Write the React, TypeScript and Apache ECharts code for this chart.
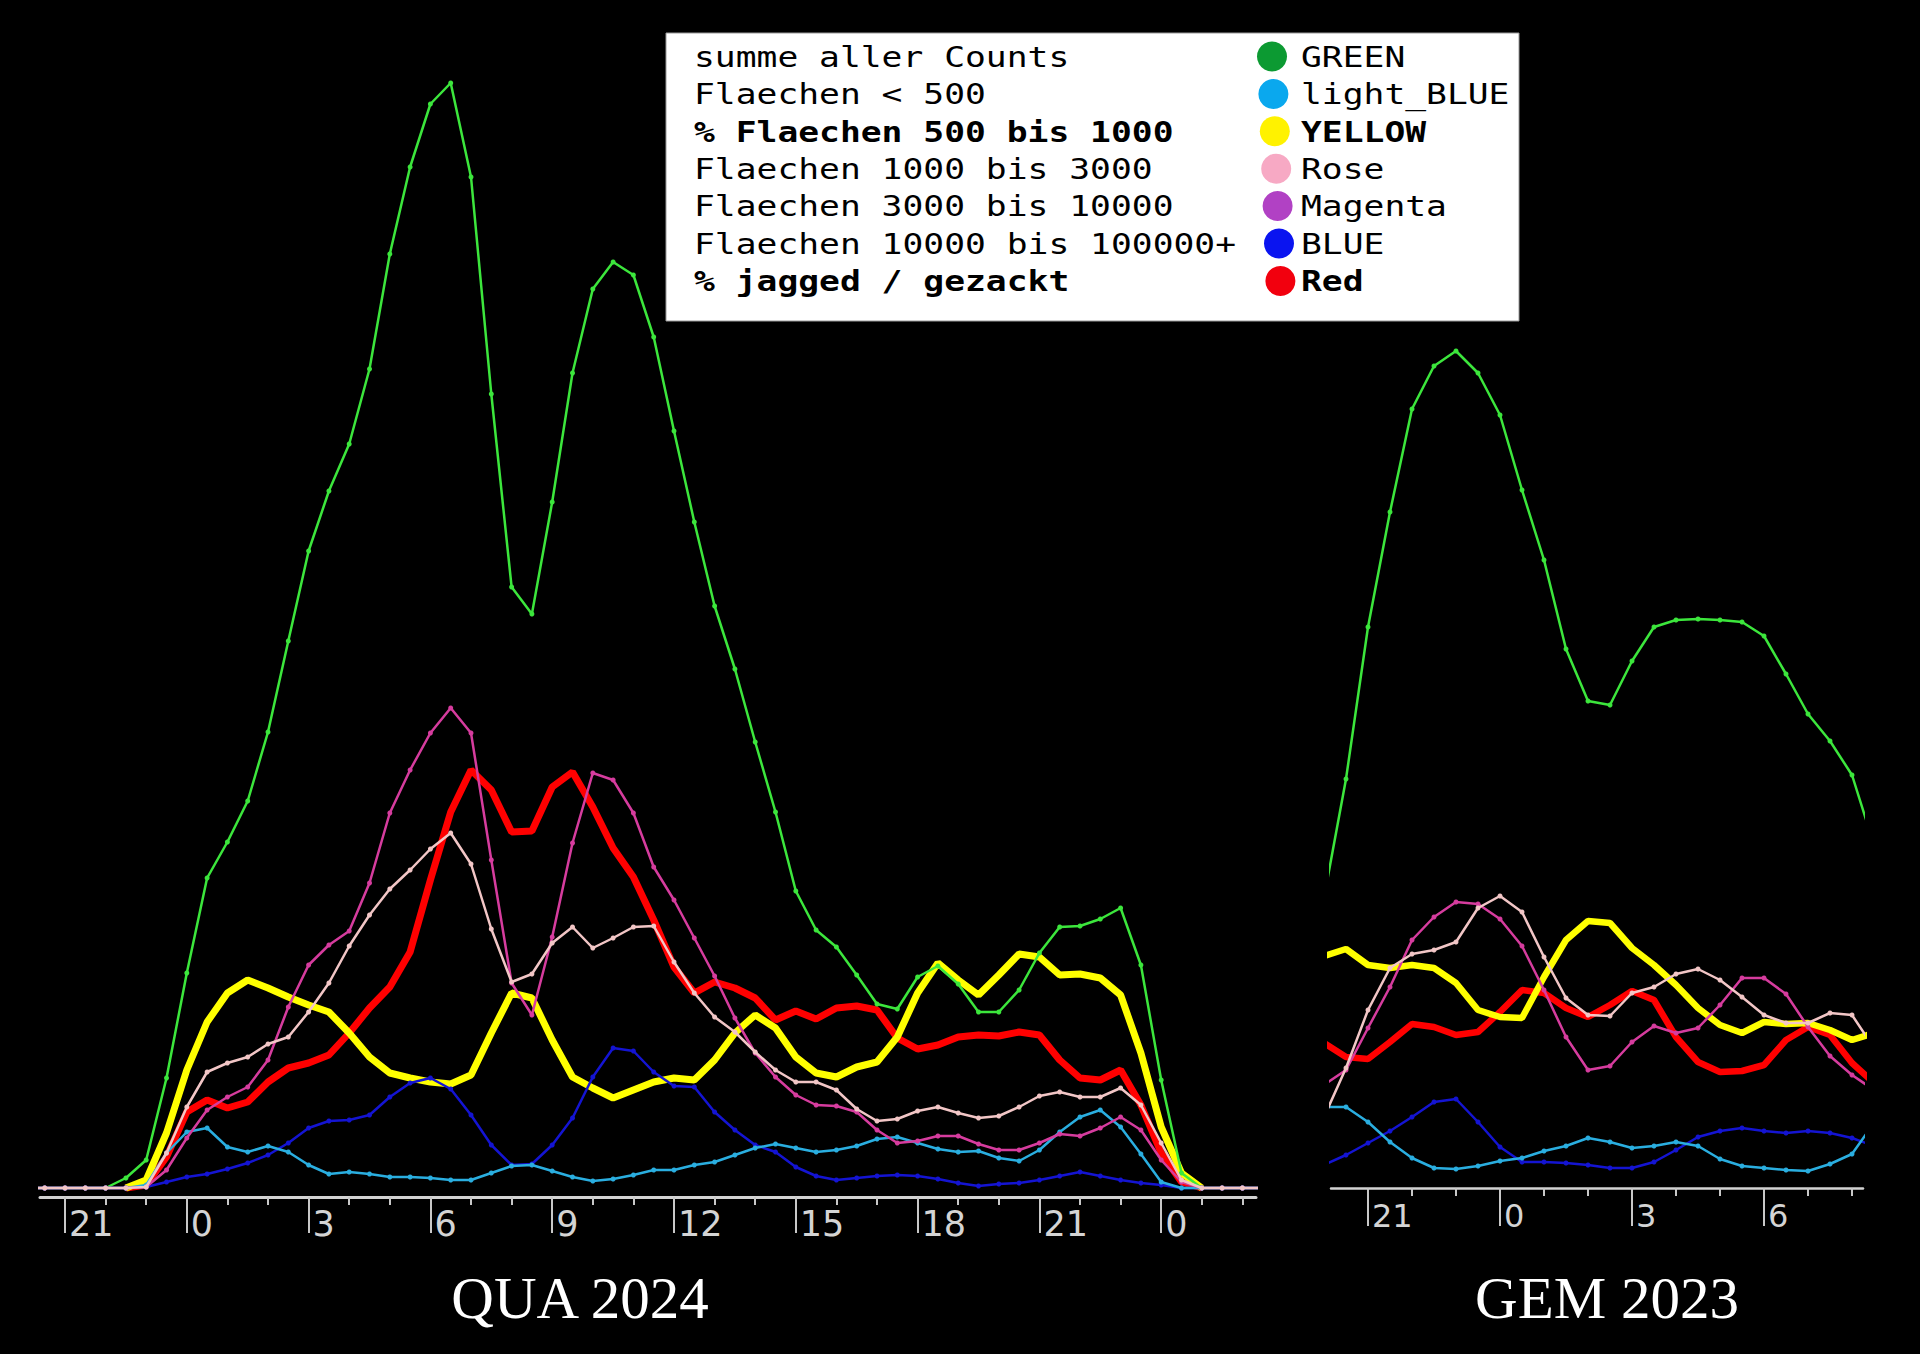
import React, { useEffect, useRef } from "react";
import * as echarts from "echarts";

// ---------- QUA 2024 (left panel), hours since day start, half-hour steps ----------
const QUA_HOURS = [
  20, 20.5, 21, 21.5, 22, 22.5, 23, 23.5, 24, 24.5, 25, 25.5, 26, 26.5, 27, 27.5, 28, 28.5, 29, 29.5,
  30, 30.5, 31, 31.5, 32, 32.5, 33, 33.5, 34, 34.5, 35, 35.5, 36, 36.5, 37, 37.5, 38, 38.5, 39, 39.5,
  40, 40.5, 41, 41.5, 42, 42.5, 43, 43.5, 44, 44.5, 45, 45.5, 46, 46.5, 47, 47.5, 48, 48.5, 49, 49.5,
  50, 50.5,
];
const QUA_GREEN = [
  0, 0, 0, 0, 0, 10, 28, 110, 215, 310, 346, 387, 456, 547, 637, 697, 744, 819, 934, 1021,
  1084, 1105, 1011, 794, 601, 574, 686, 815, 899, 926, 913, 851, 757, 666, 582, 519, 446, 376, 297, 258,
  241, 213, 184, 179, 211, 222, 204, 176, 176, 198, 235, 261, 262, 269, 280, 223, 108, 15, 0, 0,
  0, 0,
];
// the two thick series are only drawn where they leave the zero line (null = not drawn)
const QUA_YELLOW = [
  null, null, null, null, null, 0, 8, 55, 118, 166, 195, 208, 200, 191, 183, 176, 155, 131, 115, 110,
  106, 104, 113, 155, 195, 190, 148, 111, 100, 90, 98, 106, 110, 108, 128, 155, 173, 160, 131, 115,
  111, 121, 126, 151, 195, 225, 208, 193, 213, 234, 231, 213, 214, 210, 193, 135, 61, 15, 0, null,
  null, null,
];
const QUA_RED = [
  null, null, null, null, null, 0, 3, 31, 76, 88, 80, 86, 106, 120, 125, 133, 155, 180, 201, 236,
  308, 376, 418, 398, 356, 357, 401, 416, 381, 340, 311, 268, 221, 195, 206, 200, 190, 168, 177, 169,
  180, 182, 178, 150, 139, 143, 151, 153, 152, 156, 153, 128, 110, 108, 118, 83, 35, 6, 0, null,
  null, null,
];
const QUA_MAGENTA = [
  0, 0, 0, 0, 0, 0, 1, 18, 50, 78, 91, 101, 128, 181, 223, 243, 257, 305, 375, 418,
  455, 480, 455, 328, 205, 173, 251, 345, 415, 408, 375, 321, 288, 250, 212, 170, 135, 111, 93, 83,
  82, 76, 58, 45, 47, 52, 52, 44, 38, 38, 45, 54, 52, 60, 71, 58, 28, 6, 0, 0,
  0, 0,
];
const QUA_ROSE = [
  0, 0, 0, 0, 0, 0, 1, 35, 81, 116, 125, 131, 144, 151, 176, 205, 242, 273, 299, 318,
  339, 355, 324, 259, 206, 214, 245, 261, 240, 250, 261, 262, 226, 195, 171, 156, 136, 118, 106, 106,
  98, 79, 67, 69, 77, 81, 75, 70, 72, 81, 92, 96, 91, 91, 100, 83, 45, 8, 0, 0,
  0, 0,
];
const QUA_LIGHTBLUE = [
  0, 0, 0, 0, 0, 0, 3, 35, 56, 60, 41, 36, 42, 36, 23, 14, 16, 14, 11, 11,
  10, 8, 8, 15, 22, 23, 17, 11, 7, 9, 13, 18, 18, 23, 26, 33, 40, 44, 40, 36,
  38, 42, 49, 51, 45, 39, 36, 37, 30, 27, 38, 56, 71, 78, 61, 34, 6, 0, 0, 0,
  0, 0,
];
const QUA_BLUE = [
  0, 0, 0, 0, 0, 0, 1, 6, 11, 14, 19, 25, 33, 45, 60, 67, 68, 73, 91, 105,
  110, 99, 73, 43, 23, 24, 43, 70, 111, 140, 137, 116, 102, 101, 76, 58, 43, 36, 21, 12,
  8, 10, 12, 13, 12, 9, 5, 2, 4, 5, 8, 12, 16, 12, 8, 5, 3, 0, 0, 0,
  0, 0,
];

// ---------- GEM 2023 (right panel) ----------
const GEM_HOURS = [
  20, 20.5, 21, 21.5, 22, 22.5, 23, 23.5, 24, 24.5, 25, 25.5, 26, 26.5, 27, 27.5, 28, 28.5, 29, 29.5,
  30, 30.5, 31, 31.5, 32, 32.5,
];
const GEM_GREEN = [290, 409, 561, 676, 779, 822, 837, 815, 773, 698, 628, 539, 487, 483, 527, 561, 568, 569, 568, 566, 552, 514, 474, 447, 413, 343];
const GEM_YELLOW = [232, 239, 223, 220, 223, 220, 205, 178, 171, 170, 211, 248, 267, 265, 240, 223, 203, 180, 163, 155, 166, 164, 165, 158, 148, 155];
const GEM_RED = [145, 131, 129, 146, 164, 161, 153, 156, 176, 198, 195, 180, 171, 183, 197, 188, 151, 126, 116, 117, 123, 148, 161, 153, 125, 105];
const GEM_MAGENTA = [103, 118, 160, 201, 248, 271, 286, 284, 269, 242, 198, 151, 118, 122, 146, 162, 155, 160, 183, 210, 210, 194, 161, 132, 113, 98];
const GEM_ROSE = [71, 120, 178, 220, 234, 238, 246, 280, 292, 276, 231, 190, 173, 172, 195, 201, 214, 219, 208, 191, 173, 165, 165, 175, 173, 140];
const GEM_LIGHTBLUE = [81, 81, 66, 46, 30, 20, 19, 22, 27, 30, 37, 42, 50, 46, 40, 42, 46, 42, 29, 22, 20, 18, 17, 24, 34, 65];
const GEM_BLUE = [23, 33, 45, 57, 71, 86, 89, 66, 41, 26, 26, 25, 23, 20, 20, 26, 38, 51, 57, 60, 57, 55, 57, 55, 50, 42];

// ---------- ticks ----------
const QUA_MAJOR_TICKS = [21, 24, 27, 30, 33, 36, 39, 42, 45, 48];
const QUA_MINOR_TICKS = [21, 22, 23, 24, 25, 26, 27, 28, 29, 30, 31, 32, 33, 34, 35, 36, 37, 38, 39, 40, 41, 42, 43, 44, 45, 46, 47, 48, 49, 50];
const GEM_MAJOR_TICKS = [21, 24, 27, 30];
const GEM_MINOR_TICKS = [21, 22, 23, 24, 25, 26, 27, 28, 29, 30, 31, 32];

// ---------- legend ----------
const LEGEND_LABELS = [
  "summe aller Counts",
  "Flaechen < 500",
  "% Flaechen 500 bis 1000",
  "Flaechen 1000 bis 3000",
  "Flaechen 3000 bis 10000",
  "Flaechen 10000 bis 100000+",
  "% jagged / gezackt",
];
const LEGEND_COLOR_NAMES = ["GREEN", "light_BLUE", "YELLOW", "Rose", "Magenta", "BLUE", "Red"];
const LEGEND_BOLD = [false, false, true, false, false, false, true];
const LEGEND_DOT_COLORS = ["#0c9a32", "#0aa8ee", "#fff200", "#f7a9c4", "#b141c4", "#0a14f0", "#f2000e"];

const C_GREEN = "#3ce63c";
const C_LIGHTBLUE = "#2aaee0";
const C_YELLOW = "#ffff00";
const C_ROSE = "#f2c6c6";
const C_MAGENTA = "#d63c9e";
const C_BLUE = "#1414d2";
const C_RED = "#ff0000";

function line(name: string, hours: number[], vals: (number | null)[], color: string, width: number, symbols: boolean, axis: number, z: number) {
  return {
    type: "line",
    name,
    xAxisIndex: axis === 0 ? 0 : 2,
    yAxisIndex: axis,
    data: hours.map((h, i) => [h, vals[i] === null ? "-" : vals[i]]),
    lineStyle: { color, width },
    itemStyle: { color },
    symbol: "circle",
    symbolSize: 5,
    showSymbol: symbols,
    connectNulls: false,
    clip: true,
    z,
    silent: true,
    animation: false,
  };
}

const hourLabel = (v: number) => String(Math.round(v) % 24);

export default function App() {
  const ref = useRef<HTMLDivElement>(null);
  useEffect(() => {
    document.body.style.margin = "0";
    document.body.style.background = "#000";
    const chart = echarts.init(ref.current!, undefined, { renderer: "svg" });

    const majorAxis = (grid: number, min: number, max: number, ticks: number[], lineW: number, tickLen: number, fontSize: number, margin: number) => ({
      gridIndex: grid,
      type: "value",
      min,
      max,
      position: "bottom",
      axisLine: { show: true, onZero: false, lineStyle: { color: "#d2d2d2", width: lineW } },
      axisTick: { show: true, customValues: ticks, length: tickLen, lineStyle: { color: "#c8c8c8", width: 2 } },
      axisLabel: {
        show: true,
        customValues: ticks,
        formatter: hourLabel,
        align: "left",
        padding: [0, 0, 0, 4],
        margin,
        color: "#d4d4d4",
        fontSize,
        fontFamily: "DejaVu Sans",
      },
      splitLine: { show: false },
    });
    const minorAxis = (grid: number, min: number, max: number, ticks: number[]) => ({
      gridIndex: grid,
      type: "value",
      min,
      max,
      position: "bottom",
      axisLine: { show: false, onZero: false },
      axisTick: { show: true, customValues: ticks, length: 8, lineStyle: { color: "#c8c8c8", width: 2 } },
      axisLabel: { show: false },
      splitLine: { show: false },
    });

    const elements: any[] = [
      { type: "rect", shape: { x: 666, y: 33, width: 853, height: 288 }, style: { fill: "#ffffff", stroke: "#9a9a9a", lineWidth: 1 }, z: 100 },
    ];
    LEGEND_LABELS.forEach((t, i) => {
      const y = 57 + i * 37.4;
      const font = `${LEGEND_BOLD[i] ? "bold " : ""}28px "DejaVu Sans Mono"`;
      elements.push({
        type: "text", x: 694, y, scaleX: 1.237, z: 101,
        style: { text: t, fill: "#000", font, textAlign: "left", textVerticalAlign: "middle", align: "left", verticalAlign: "middle" },
      });
      elements.push({
        type: "text", x: 1301, y, scaleX: 1.237, z: 101,
        style: { text: LEGEND_COLOR_NAMES[i], fill: "#000", font, textAlign: "left", textVerticalAlign: "middle", align: "left", verticalAlign: "middle" },
      });
      elements.push({
        type: "circle", z: 101,
        shape: { cx: 1272 + i * 1.4, cy: y - 0.5, r: 15 },
        style: { fill: LEGEND_DOT_COLORS[i] },
      });
    });
    elements.push({
      type: "text", x: 580, y: 1298, z: 101,
      style: { text: "QUA 2024", fill: "#fff", font: '59px "Liberation Serif"', textAlign: "center", textVerticalAlign: "middle", align: "center", verticalAlign: "middle" },
    });
    elements.push({
      type: "text", x: 1607, y: 1298, z: 101,
      style: { text: "GEM 2023", fill: "#fff", font: '59px "Liberation Serif"', textAlign: "center", textVerticalAlign: "middle", align: "center", verticalAlign: "middle" },
    });

    chart.setOption({
      animation: false,
      backgroundColor: "#000",
      grid: [
        { left: 40, width: 1216, top: 0, height: 1197 },
        { left: 1331, width: 532, top: 0, height: 1188 },
      ],
      xAxis: [
        majorAxis(0, 20.384, 50.335, QUA_MAJOR_TICKS, 3, 36, 35, 9),
        minorAxis(0, 20.384, 50.335, QUA_MINOR_TICKS),
        majorAxis(1, 20.159, 32.25, GEM_MAJOR_TICKS, 2.5, 38, 32, 12),
        minorAxis(1, 20.159, 32.25, GEM_MINOR_TICKS),
      ],
      yAxis: [
        { gridIndex: 0, type: "value", min: -9, max: 1188, show: false, splitLine: { show: false } },
        { gridIndex: 1, type: "value", min: 0, max: 1188, show: false, splitLine: { show: false } },
      ],
      series: [
        line("Red", QUA_HOURS, QUA_RED, C_RED, 7, false, 0, 2),
        line("YELLOW", QUA_HOURS, QUA_YELLOW, C_YELLOW, 7, false, 0, 3),
        line("GREEN", QUA_HOURS, QUA_GREEN, C_GREEN, 2.5, true, 0, 4),
        line("BLUE", QUA_HOURS, QUA_BLUE, C_BLUE, 2.5, true, 0, 5),
        line("light_BLUE", QUA_HOURS, QUA_LIGHTBLUE, C_LIGHTBLUE, 2.5, true, 0, 6),
        line("Magenta", QUA_HOURS, QUA_MAGENTA, C_MAGENTA, 2.5, true, 0, 7),
        line("Rose", QUA_HOURS, QUA_ROSE, C_ROSE, 2.5, true, 0, 8),
        line("Red", GEM_HOURS, GEM_RED, C_RED, 6.5, false, 1, 2),
        line("YELLOW", GEM_HOURS, GEM_YELLOW, C_YELLOW, 6.5, false, 1, 3),
        line("GREEN", GEM_HOURS, GEM_GREEN, C_GREEN, 2.5, true, 1, 4),
        line("BLUE", GEM_HOURS, GEM_BLUE, C_BLUE, 2.5, true, 1, 5),
        line("light_BLUE", GEM_HOURS, GEM_LIGHTBLUE, C_LIGHTBLUE, 2.5, true, 1, 6),
        line("Magenta", GEM_HOURS, GEM_MAGENTA, C_MAGENTA, 2.5, true, 1, 7),
        line("Rose", GEM_HOURS, GEM_ROSE, C_ROSE, 2.5, true, 1, 8),
      ],
      graphic: { elements },
    });
    return () => chart.dispose();
  }, []);
  return (
    <div
      ref={ref}
      style={{ position: "absolute", left: 0, top: 0, width: 1920, height: 1354, background: "#000" }}
    />
  );
}
